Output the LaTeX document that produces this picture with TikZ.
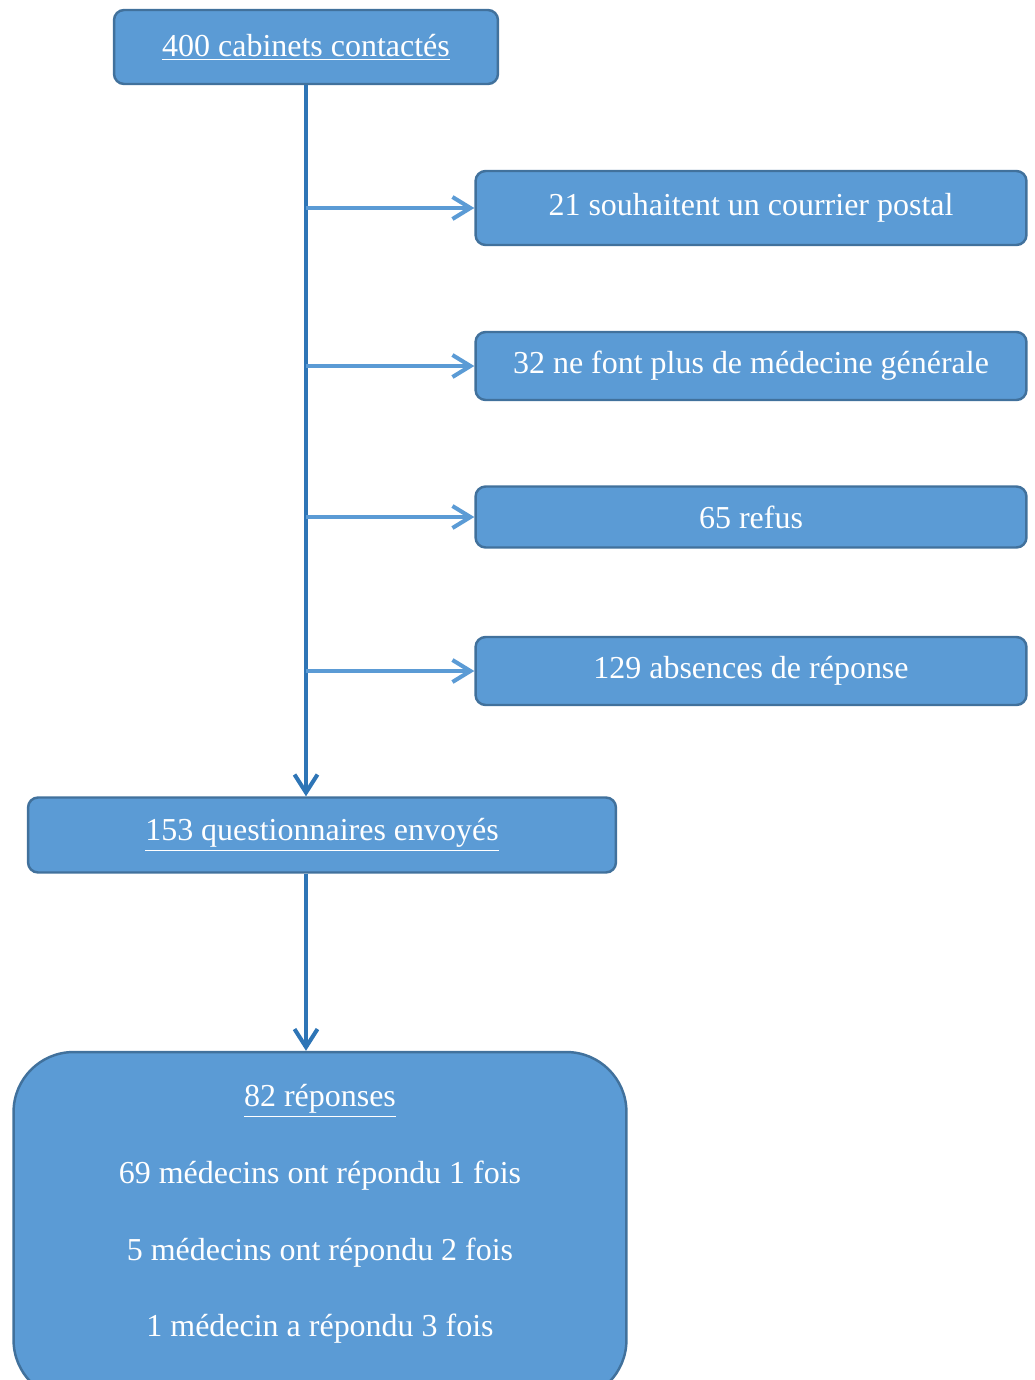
\documentclass[tikz,border=0pt]{standalone}
\usepackage{fontspec}
\setmainfont{Liberation Serif}
\usetikzlibrary{arrows.meta}
\usetikzlibrary{calc}

\definecolor{boxfill}{HTML}{5B9BD5}
\definecolor{boxline}{HTML}{41719C}
\definecolor{trunkblue}{HTML}{2E75B6}

\begin{document}
\begin{tikzpicture}
  [ x=0.02cm, y=-0.02cm,
    box/.style={draw=boxline, fill=boxfill, line width=1.4pt,
      rounded corners=0.2cm, text=white, inner sep=0pt,
      font=\fontsize{18.2}{21}\selectfont},
    trunk/.style={draw=trunkblue, line width=2.3pt,
      -{Straight Barb[length=0.36cm,width=0.46cm,line width=2.3pt]}},
    branch/.style={draw=boxfill, line width=2.3pt,
      -{Straight Barb[length=0.36cm,width=0.44cm,line width=2.3pt]}}
  ]
  \useasboundingbox (0,0) rectangle (1035,1380);
  \clip (0,0) rectangle (1035,1380);

  \node (cab)  at (306,47)  [box, minimum width=7.68cm, minimum height=1.48cm]
    {\underline{400 cabinets contactés}};

  \node (post) at (751,208) [box, minimum width=11.02cm, minimum height=1.48cm]
    {21 souhaitent un courrier postal};
  \node (mg)   at (751,366) [box, minimum width=11.02cm, minimum height=1.36cm]
    {32 ne font plus de médecine générale};
  \node (ref)  at (751,517) [box, minimum width=11.02cm, minimum height=1.22cm]
    {65 refus};
  \node (abs)  at (751,671) [box, minimum width=11.02cm, minimum height=1.36cm]
    {129 absences de réponse};

  \node (env)  at (322,835) [box, minimum width=11.76cm, minimum height=1.5cm]
    {\underline{153 questionnaires envoyés}};

  \node (rep)  at (320,1226) [box, rounded corners=1.2cm,
    minimum width=12.26cm, minimum height=6.96cm] {};
  \node (reptxt) at (320,1214) [text=white, align=center,
    font=\fontsize{18.2}{43.6}\selectfont]
    {\underline{82 réponses}\\
     69 médecins ont répondu 1 fois\\
     5 médecins ont répondu 2 fois\\
     1 médecin a répondu 3 fois};

  % branches off the trunk
  \coordinate (t1) at (cab.south |- post);
  \coordinate (t2) at (cab.south |- mg);
  \coordinate (t3) at (cab.south |- ref);
  \coordinate (t4) at (cab.south |- abs);

  \draw [trunk] (cab.south) -- (cab.south |- env.north);
  \draw [branch] (t1) -- (post.west);
  \draw [branch] (t2) -- (mg.west);
  \draw [branch] (t3) -- (ref.west);
  \draw [branch] (t4) -- (abs.west);

  \draw [trunk] (env.south -| cab.south) -- (rep.north -| cab.south);
\end{tikzpicture}
\end{document}
